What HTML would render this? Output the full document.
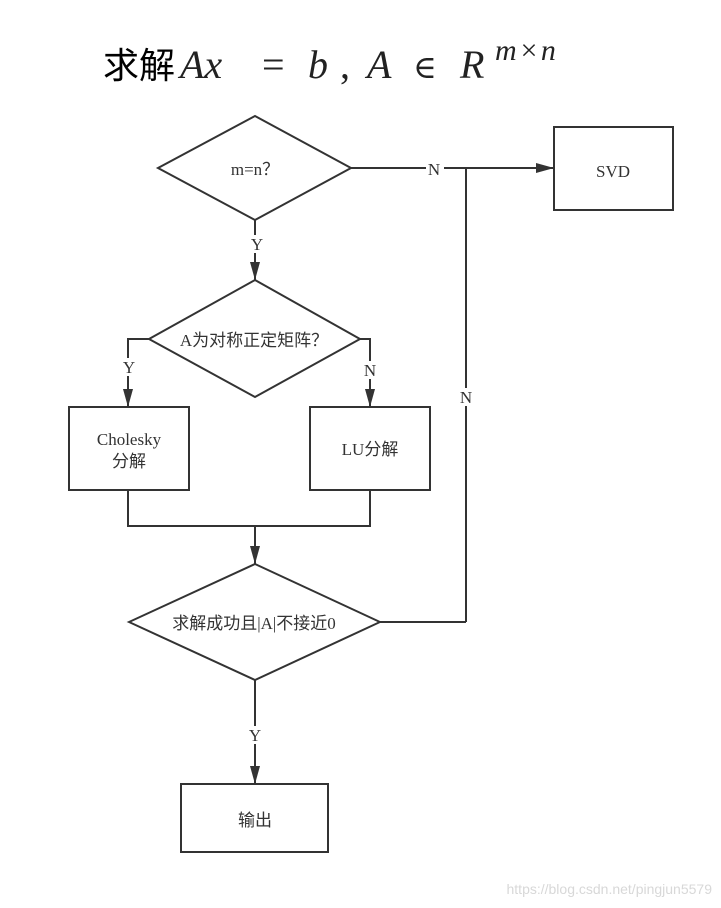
<!DOCTYPE html>
<html><head><meta charset="utf-8"><style>
body{margin:0;background:#fff;width:721px;height:908px;overflow:hidden}
svg{display:block}
</style></head><body>
<svg width="721" height="908" viewBox="0 0 721 908" xmlns="http://www.w3.org/2000/svg">
<defs>
<marker id="b" viewBox="0 0 18 10" refX="18" refY="5" markerWidth="18" markerHeight="10" orient="auto" markerUnits="userSpaceOnUse"><path d="M0,0L18,5L0,10z" fill="#333"/></marker></defs>
<text x="103" y="78" font-family="'Noto Sans CJK SC',sans-serif" font-size="36" fill="#000">求解</text>
<text x="180" y="78" font-family="'Liberation Serif',serif" font-style="italic" font-size="40" fill="#222">Ax</text>
<text x="262" y="78" font-family="'Liberation Serif',serif" font-size="40" fill="#222">=</text>
<text x="308" y="78" font-family="'Liberation Serif',serif" font-style="italic" font-size="40" fill="#222">b</text>
<text x="340" y="78" font-family="'Liberation Serif',serif" font-size="40" fill="#222">,</text>
<text x="367" y="78" font-family="'Liberation Serif',serif" font-style="italic" font-size="40" fill="#222">A</text>
<text x="413" y="78" font-family="'DejaVu Serif',serif" font-size="32" fill="#222">∈</text>
<text x="460" y="78" font-family="'Liberation Serif',serif" font-style="italic" font-size="40" fill="#222">R</text>
<text x="495" y="60" font-family="'Liberation Serif',serif" font-style="italic" font-size="30" letter-spacing="2" fill="#222">m×n</text>
<g stroke="#333" stroke-width="2" fill="none">
<polygon points="255,116 351,168 255,220 158,168" fill="#fff"/>
<polygon points="255,280 360,339 255,397 149,339" fill="#fff"/>
<polygon points="255,564 380,622 255,680 129,622" fill="#fff"/>
<rect x="554" y="127" width="119" height="83"/>
<rect x="69" y="407" width="120" height="83"/>
<rect x="310" y="407" width="120" height="83"/>
<rect x="181" y="784" width="147" height="68"/>
<path d="M351,168H554" marker-end="url(#b)"/>
<path d="M466,622V168"/>
<path d="M380,622H466"/>
<path d="M255,220V280" marker-end="url(#b)"/>
<path d="M149,339H128V407" marker-end="url(#b)"/>
<path d="M360,339H370V407" marker-end="url(#b)"/>
<path d="M128,490V526H370V490"/>
<path d="M255,526V564" marker-end="url(#b)"/>
<path d="M255,680V784" marker-end="url(#b)"/>
</g>
<g font-family="'Liberation Serif','Noto Sans CJK SC',serif" font-size="17" fill="#333" text-anchor="middle">
<rect x="426" y="160" width="18" height="17" fill="#fff"/>
<text x="434" y="175">N</text>
<rect x="457" y="388" width="18" height="18" fill="#fff"/>
<text x="466" y="403">N</text>
<rect x="248" y="235" width="16" height="18" fill="#fff"/>
<text x="257" y="250">Y</text>
<rect x="120" y="358" width="16" height="18" fill="#fff"/>
<text x="129" y="373">Y</text>
<rect x="361" y="361" width="18" height="18" fill="#fff"/>
<text x="370" y="376">N</text>
<rect x="246" y="726" width="18" height="18" fill="#fff"/>
<text x="255" y="741">Y</text>
<text x="255" y="175">m=n？</text>
<text x="254" y="346">A为对称正定矩阵？</text>
<text x="254" y="629">求解成功且|A|不接近0</text>
<text x="613" y="177">SVD</text>
<text x="129" y="445">Cholesky</text>
<text x="129" y="467">分解</text>
<text x="370" y="455">LU分解</text>
<text x="255" y="826">输出</text>
</g>
<text x="712" y="894" text-anchor="end" font-family="'Liberation Sans',sans-serif" font-size="14" fill="#d8d8d8">https://blog.csdn.net/pingjun5579</text>
</svg>
</body></html>
